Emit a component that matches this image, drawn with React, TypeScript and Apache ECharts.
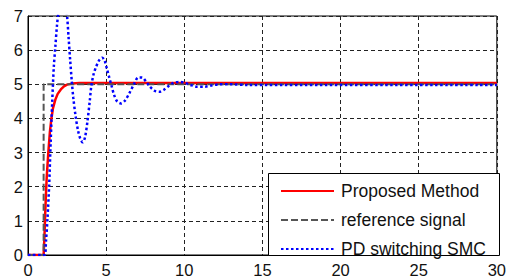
import React, { useEffect, useRef } from "react";
import * as echarts from "echarts";

const seriesNames = ["Proposed Method", "reference signal", "PD switching SMC"];

const proposedT = [0, 1.0, 1.05, 1.1, 1.15, 1.2, 1.3, 1.4, 1.5, 1.6, 1.75, 1.9, 2.1, 2.3, 2.5, 2.8, 3.3, 30];
const proposedY = [0, 0, 0.5, 1.2, 1.8, 2.3, 3.0, 3.6, 4.0, 4.3, 4.55, 4.72, 4.85, 4.94, 4.99, 5.02, 5.04, 5.04];

const referenceT = [0, 1, 1, 30];
const referenceY = [0, 0, 5, 5];

const smcT = [0, 1.05, 1.15, 1.25, 1.35, 1.45, 1.55, 1.65, 1.75, 1.85, 1.95, 2.1, 2.25, 2.4, 2.5, 2.6, 2.7, 2.8, 2.9, 3.05, 3.2, 3.35, 3.5, 3.65, 3.8, 3.95, 4.05, 4.2, 4.35, 4.55, 4.75, 4.9, 5.05, 5.2, 5.35, 5.5, 5.7, 5.95, 6.2, 6.5, 6.8, 7.05, 7.3, 7.55, 7.8, 8.1, 8.4, 8.7, 9.0, 9.3, 9.7, 10.0, 10.4, 10.8, 11.3, 11.8, 12.3, 13, 14, 30];
const smcY = [0, 0, 0.4, 1.1, 2.0, 3.3, 4.5, 5.5, 6.1, 6.7, 7.1, 7.4, 7.45, 7.3, 7.0, 6.35, 5.7, 5.1, 4.6, 4.05, 3.65, 3.4, 3.3, 3.45, 3.9, 4.5, 4.95, 5.3, 5.5, 5.7, 5.78, 5.7, 5.45, 5.2, 4.95, 4.7, 4.5, 4.44, 4.52, 4.75, 5.02, 5.2, 5.2, 5.08, 4.93, 4.81, 4.78, 4.84, 4.95, 5.04, 5.07, 5.05, 4.98, 4.93, 4.93, 4.97, 5.0, 5.0, 4.98, 4.98];

const xMin = 0, xMax = 30, xStep = 5;
const yMin = 0, yMax = 7, yStep = 1;

const zip = (t: number[], y: number[]) => t.map((v, i) => [v, y[i]]);

export default function App() {
  const ref = useRef<HTMLDivElement>(null);
  useEffect(() => {
    if (!ref.current) return;
    const chart = echarts.init(ref.current, undefined, { renderer: "svg" });
    const font = "'Liberation Sans', Arial, sans-serif";
    const split = { show: true, lineStyle: { color: "#222", type: [4, 3], width: 1 } };
    chart.setOption({
      animation: false,
      backgroundColor: "#fff",
      grid: { left: 28, right: 10, top: 16, bottom: 23, show: true, borderColor: "#000", borderWidth: 1, backgroundColor: "transparent" },
      xAxis: {
        type: "value", min: xMin, max: xMax, interval: xStep,
        axisLine: { show: true, lineStyle: { color: "#000", width: 1 } },
        axisTick: { show: false },
        axisLabel: { color: "#111", fontSize: 16.5, fontFamily: font, margin: 6 },
        splitLine: split,
      },
      yAxis: {
        type: "value", min: yMin, max: yMax, interval: yStep,
        axisLine: { show: true, lineStyle: { color: "#000", width: 1 } },
        axisTick: { show: false },
        axisLabel: { color: "#111", fontSize: 16.5, fontFamily: font, margin: 5 },
        splitLine: split,
      },
      legend: {
        orient: "vertical", left: 280, top: 182, padding: 0,
        itemWidth: 53, itemHeight: 14, itemGap: 11,
        itemStyle: { opacity: 0 },
        textStyle: { fontSize: 17.5, fontFamily: font, color: "#111", padding: [0, 0, 0, 2] },
        data: seriesNames, z: 10,
      },
      graphic: [{
        type: "rect", left: 268, top: 173, z: 5,
        shape: { width: 231, height: 82 },
        style: { fill: "#fff", stroke: "#000", lineWidth: 1 },
      }],
      series: [
        { name: seriesNames[0], type: "line", data: zip(proposedT, proposedY), showSymbol: false, symbol: "none",
          lineStyle: { color: "#ff0000", width: 2.5 }, itemStyle: { color: "#ff0000" }, z: 2 },
        { name: seriesNames[1], type: "line", data: zip(referenceT, referenceY), showSymbol: false, symbol: "none",
          lineStyle: { color: "#555", width: 2, type: [7, 3] }, itemStyle: { color: "#555" }, z: 2 },
        { name: seriesNames[2], type: "line", data: zip(smcT, smcY), showSymbol: false, symbol: "none", smooth: 0.3,
          lineStyle: { color: "#0000ff", width: 2.5, type: [2.5, 2.5] }, itemStyle: { color: "#0000ff" }, z: 3 },
      ],
    });
    return () => chart.dispose();
  }, []);
  return <div ref={ref} style={{ position: "absolute", left: 0, top: 0, width: 509, height: 278 }} />;
}
